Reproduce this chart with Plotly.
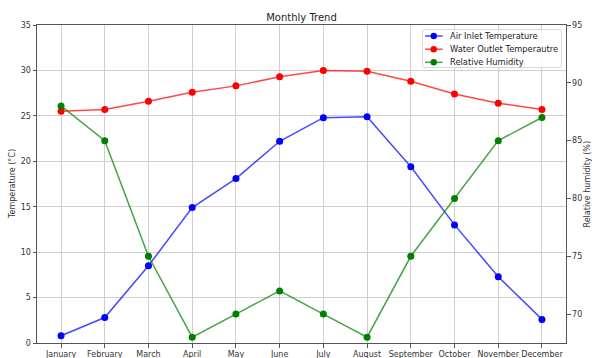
import plotly.graph_objects as go

months = ["January", "February", "March", "April", "May", "June",
          "July", "August", "September", "October", "November", "December"]
air_inlet_temp = [0.8, 2.8, 8.5, 14.9, 18.1, 22.2, 24.8, 24.9, 19.4, 13.0, 7.3, 2.6]
water_outlet_temp = [25.5, 25.7, 26.6, 27.6, 28.3, 29.3, 30.0, 29.9, 28.8, 27.4, 26.4, 25.7]
relative_humidity = [88, 85, 75, 68, 70, 72, 70, 68, 75, 80, 85, 87]

series_names = ["Air Inlet Temperature", "Water Outlet Temperautre", "Relative Humidity"]
series_colors = [(0, 0, 255), (255, 0, 0), (0, 128, 0)]

FONT = "DejaVu Sans"
GRID = "#cfcfcf"
AXIS = "#555555"

W, H = 592, 358
L, R, T, B = 37, 26, 25, 15
PW, PH = W - L - R, H - T - B


def px_x(px):
    return (px - L) / PW


def px_y(py):
    return (H - B - py) / PH


fig = go.Figure()

for values, name, rgb, axis in zip(
        [air_inlet_temp, water_outlet_temp, relative_humidity],
        series_names, series_colors, ["y", "y", "y2"]):
    fig.add_trace(go.Scatter(
        x=months, y=values, name=name, mode="lines+markers", yaxis=axis,
        line=dict(color="rgba(%d,%d,%d,0.72)" % rgb, width=1.5),
        marker=dict(color="rgb(%d,%d,%d)" % rgb, size=7),
        showlegend=False,
    ))

fig.update_layout(
    width=W, height=H,
    margin=dict(l=L, r=R, t=T, b=B, autoexpand=False),
    plot_bgcolor="white", paper_bgcolor="white",
    font=dict(family=FONT, size=8, color="#333"),
    title=dict(text="Monthly Trend", x=0.5, xref="paper", xanchor="center",
               y=1, yref="paper", yanchor="bottom", pad=dict(b=4),
               font=dict(size=10, color="#222")),
    xaxis=dict(type="category", range=[-0.55, 11.55], showgrid=True,
               gridcolor=GRID, gridwidth=1, ticks="outside", ticklen=3.5,
               tickcolor=AXIS, showline=True, linecolor=AXIS, linewidth=1,
               mirror=True, zeroline=False, tickangle=0,
               tickfont=dict(size=8, color="#333")),
    yaxis=dict(range=[0, 35], dtick=5, showgrid=True, gridcolor=GRID,
               gridwidth=1, ticks="outside", ticklen=3.5, tickcolor=AXIS,
               showline=True, linecolor=AXIS, linewidth=1, zeroline=False,
               tickfont=dict(size=8, color="#333")),
    yaxis2=dict(range=[67.5, 95], dtick=5, overlaying="y", side="right",
                showgrid=False, ticks="outside", ticklen=3.5, tickcolor=AXIS,
                showline=True, linecolor=AXIS, linewidth=1, zeroline=False,
                tickfont=dict(size=8, color="#333")),
)

# axis titles
fig.add_annotation(text="Temperature (°C)", xref="paper", yref="paper",
                   x=px_x(12), y=0.5, xanchor="center", yanchor="middle",
                   textangle=-90, showarrow=False,
                   font=dict(size=8, color="#333"))
fig.add_annotation(text="Relative humidity (%)", xref="paper", yref="paper",
                   x=px_x(586.5), y=0.5, xanchor="center", yanchor="middle",
                   textangle=-90, showarrow=False,
                   font=dict(size=8, color="#333"))

# legend box (upper right, rounded frame)
bx0, bx1, by0, by1, rad = 422.5, 561.5, 29.5, 67.5, 2.5
x0, x1 = px_x(bx0), px_x(bx1)
y0, y1 = px_y(by1), px_y(by0)
rx, ry = rad / PW, rad / PH
path = (f"M {x0+rx},{y1} L {x1-rx},{y1} Q {x1},{y1} {x1},{y1-ry} "
        f"L {x1},{y0+ry} Q {x1},{y0} {x1-rx},{y0} L {x0+rx},{y0} "
        f"Q {x0},{y0} {x0},{y0+ry} L {x0},{y1-ry} Q {x0},{y1} {x0+rx},{y1} Z")
fig.add_shape(type="path", path=path, xref="paper", yref="paper",
              line=dict(color="#d9d9d9", width=1),
              fillcolor="rgba(255,255,255,0.85)", layer="above")

row_y = [36, 49.2, 62.3]
for name, rgb, ry_px in zip(series_names, series_colors, row_y):
    yy = px_y(ry_px)
    fig.add_shape(type="line", xref="paper", yref="paper",
                  x0=px_x(425), x1=px_x(442.5), y0=yy, y1=yy,
                  line=dict(color="rgba(%d,%d,%d,0.72)" % rgb, width=1.5),
                  layer="above")
    fig.add_shape(type="circle", xref="paper", yref="paper",
                  x0=px_x(433.75 - 3.2), x1=px_x(433.75 + 3.2),
                  y0=px_y(ry_px + 3.2), y1=px_y(ry_px - 3.2),
                  fillcolor="rgb(%d,%d,%d)" % rgb, line=dict(width=0),
                  layer="above")
    fig.add_annotation(text=name, xref="paper", yref="paper",
                       x=px_x(448), y=yy, xanchor="left", yanchor="middle",
                       showarrow=False,
                       font=dict(size=8.3, color="#222"))

fig.write_html("out.html")
